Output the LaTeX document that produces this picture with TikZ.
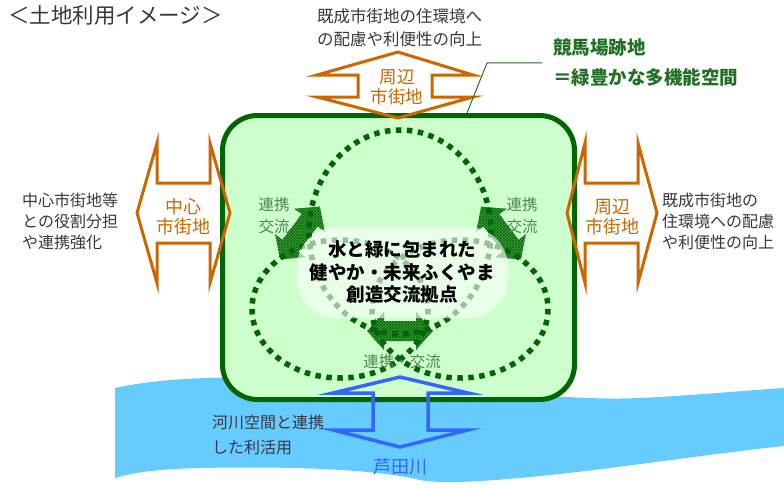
\documentclass[tikz,border=0pt]{standalone}
\usepackage{fontspec}
\setmainfont{Noto Sans CJK JP}
\usetikzlibrary{patterns}
\definecolor{org}{RGB}{204,102,0}
\definecolor{dgreen}{RGB}{0,102,0}
\definecolor{boxfill}{RGB}{204,255,204}
\definecolor{river}{RGB}{102,204,255}
\definecolor{blu}{RGB}{51,102,255}
\definecolor{ttlgreen}{RGB}{34,112,34}
\definecolor{lblgreen}{RGB}{86,130,86}
\definecolor{hatchgreen}{RGB}{70,160,70}
\definecolor{txtgray}{RGB}{55,55,65}
\newcommand\dblarrow[3]{%
  \begin{scope}[shift={(#1)}, rotate=#2]
    \path[hatcharrow] (-#3,0) -- (-16,19) -- (-16,10) -- (16,10) -- (16,19) -- (#3,0)
      -- (16,-19) -- (16,-10) -- (-16,-10) -- (-16,-19) -- cycle;
  \end{scope}}
\begin{document}
\begin{tikzpicture}[x=1pt,y=-1pt,
  sitebox/.style={draw=dgreen, line width=5pt, fill=boxfill, rounded corners=35pt,
    minimum width=352pt, minimum height=284pt, inner sep=0pt},
  dots/.style={draw=dgreen, line width=5.5pt, dash pattern=on 5.5pt off 5.5pt},
  hatcharrow/.style={fill=hatchgreen, postaction={pattern=crosshatch, pattern color=dgreen}},
  oarrow/.style={draw=org, line width=3pt, line join=miter},
  barrow/.style={draw=blu, line width=3.5pt, line join=miter},
  plain/.style={text=txtgray, font=\fontsize{16}{21}\selectfont, align=left, inner sep=0pt},
  olabel/.style={text=org, font=\fontsize{18}{20}\selectfont, align=center, inner sep=0pt},
  glabel/.style={text=lblgreen, font=\fontsize{15.5}{22}\selectfont, align=center, inner sep=0pt}]
\useasboundingbox (0,0) rectangle (784,487);
% river
\fill[river] (115,388) .. controls (160,378) and (220,376) .. (300,378)
  .. controls (450,382) and (550,402) .. (640,398)
  .. controls (700,395) and (750,390) .. (784,388) -- (784,446)
  .. controls (700,455) and (620,468) .. (540,476)
  .. controls (480,482) and (440,484) .. (420,480)
  .. controls (380,470) and (300,466) .. (200,468)
  .. controls (160,469) and (135,472) .. (115,478) -- cycle;
% site box
\node[sitebox] (site) at (398.5,257.5) {};
% hatched exchange arrows
\dblarrow{300,233}{53}{33}
\dblarrow{501,233}{127}{33}
\dblarrow{400,331}{0}{33}
% dotted circles
\draw[dots] (400,232) ellipse [x radius=91, y radius=102];
\draw[dots] (340,309) ellipse [x radius=88, y radius=69];
\draw[dots] (460,309) ellipse [x radius=88, y radius=69];
% white centre
\fill[white, opacity=0.6, rounded corners=40pt] (297,227) rectangle (508,318);
\node[text=black, font=\fontsize{18.5}{22.5}\selectfont\bfseries, align=center, inner sep=0pt]
  (hub) at (402,272) {水と緑に包まれた\\健やか・未来ふくやま\\創造交流拠点};
\node[glabel] (exl) at (274,216) {連携\\交流};
\node[glabel] (exr) at (522,216) {連携\\交流};
\node[glabel] (exb) at (402,362) {連携・交流};
% orange arrows
\draw[oarrow] (157,143) -- (157,183) -- (210,183) -- (210,143) -- (230,213) -- (210,283)
  -- (210,243) -- (157,243) -- (157,283) -- (137,213) -- cycle;
\draw[oarrow] (585,143) -- (585,183) -- (638,183) -- (638,143) -- (657,213) -- (638,283)
  -- (638,243) -- (585,243) -- (585,283) -- (567,213) -- cycle;
\draw[oarrow] (398,52) -- (473,75) -- (432,75) -- (432,97) -- (473,97) -- (398,118)
  -- (317,97) -- (358,97) -- (358,75) -- (317,75) -- cycle;
\node[olabel] (lcity) at (183.5,217) {中心\\市街地};
\node[olabel] (rcity) at (612,217) {周辺\\市街地};
\node[olabel, font=\fontsize{17.5}{20}\selectfont] (tcity) at (397,87.5) {周辺\\市街地};
% blue arrow
\draw[barrow] (400,377) -- (468,393) -- (428,393) -- (428,430) -- (468,430) -- (400,447)
  -- (333,430) -- (373,430) -- (373,393) -- (333,393) -- cycle;
\node[text=blu, font=\fontsize{18}{20}\selectfont, inner sep=0pt] (ashida) at (400,467) {芦田川};
% texts
\node[text=txtgray, font=\fontsize{21.5}{24}\selectfont, anchor=west, inner sep=0pt] (title) at (8,15) {＜土地利用イメージ＞};
\node[plain, font=\fontsize{16.5}{23}\selectfont, anchor=west] (toptxt) at (317,27.5) {既成市街地の住環境へ\\の配慮や利便性の向上};
\node[plain, anchor=west] (lefttxt) at (22,221) {中心市街地等\\との役割分担\\や連携強化};
\node[plain, anchor=west] (righttxt) at (662,221) {既成市街地の\\住環境への配慮\\や利便性の向上};
\node[plain, font=\fontsize{16}{25}\selectfont, anchor=west] (rivertxt) at (212,434.5) {河川空間と連携\\した利活用};
\node[text=ttlgreen, font=\fontsize{18.5}{30}\selectfont\bfseries, align=left, anchor=west, inner sep=0pt]
  (sitettl) at (553,62) {競馬場跡地\\＝緑豊かな多機能空間};
% callout
\coordinate (callend) at (542,63);
\coordinate (callbend) at (487,63);
\draw[ttlgreen, line width=1pt] (callend) -- (callbend) -- (site.north -| 467,0);
\end{tikzpicture}
\end{document}
